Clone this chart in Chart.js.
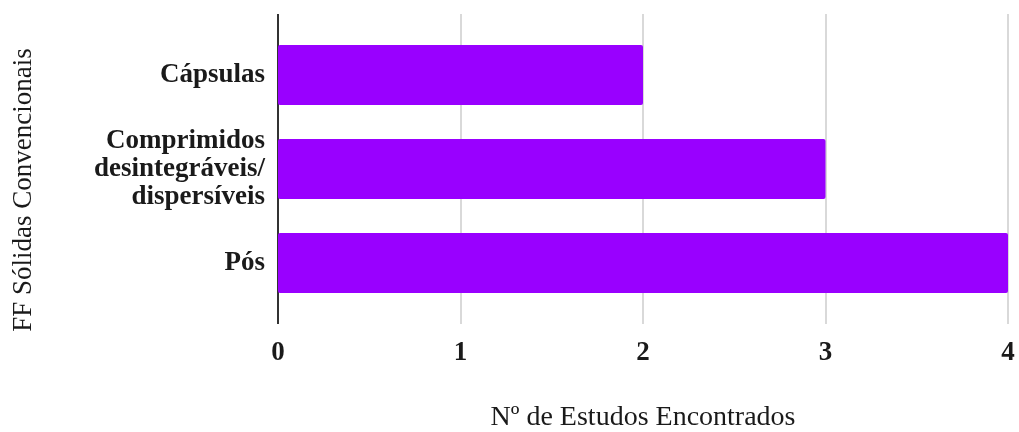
<!DOCTYPE html>
<html>
<head>
<meta charset="utf-8">
<script src="https://cdn.jsdelivr.net/npm/chart.js@4"></script>
<style>
  html, body { margin: 0; padding: 0; background: #fff; }
  #wrap { width: 1019px; height: 432px; }
</style>
</head>
<body>
<div id="wrap"><canvas id="chart"></canvas></div>
<script>
// data
const categories = ['Cápsulas', ['Comprimidos', 'desintegráveis/', 'dispersíveis'], 'Pós']
const studies = [2, 3, 4]
const xTicks = [0, 1, 2, 3, 4]
const xTitle = 'Nº de Estudos Encontrados'
const yTitle = 'FF Sólidas Convencionais'

const serif = "'Liberation Serif', 'Times New Roman', serif"

// gridlines + axis line run a bit past the plot area, like the original
const extendedGrid = {
  id: 'extendedGrid',
  beforeDatasetsDraw(chart) {
    const {ctx, chartArea, scales: {x}} = chart
    ctx.save()
    xTicks.forEach(v => {
      const px = Math.round(x.getPixelForValue(v))
      ctx.beginPath()
      ctx.strokeStyle = v === 0 ? '#333333' : '#cccccc'
      ctx.lineWidth = v === 0 ? 2 : 1.5
      ctx.moveTo(px, chartArea.top - 14)
      ctx.lineTo(px, chartArea.bottom + 14)
      ctx.stroke()
    })
    ctx.restore()
  }
}

const sideTitle = {
  id: 'sideTitle',
  afterDraw(chart) {
    const {ctx} = chart
    ctx.save()
    ctx.translate(24, 190)
    ctx.rotate(-Math.PI / 2)
    ctx.font = "27px " + serif
    ctx.fillStyle = '#1a1a1a'
    ctx.textAlign = 'center'
    ctx.textBaseline = 'middle'
    ctx.fillText(yTitle, 0, 0)
    ctx.restore()
  }
}

new Chart(document.getElementById('chart'), {
  type: 'bar',
  data: {
    labels: categories,
    datasets: [{
      data: studies,
      backgroundColor: '#9900ff',
      borderRadius: 2,
      borderSkipped: false,
      barPercentage: 0.8,
      categoryPercentage: 0.8
    }]
  },
  options: {
    indexAxis: 'y',
    responsive: true,
    maintainAspectRatio: false,
    animation: false,
    layout: { padding: { top: 28, right: 11, left: 0, bottom: 0 } },
    plugins: {
      legend: { display: false },
      tooltip: { enabled: false }
    },
    scales: {
      x: {
        min: 0,
        max: 4,
        afterFit(scale) {
          scale.height = 122
          scale.paddingLeft = 0
          scale.paddingRight = 0
        },
        grid: { display: false, drawTicks: false },
        border: { display: false },
        ticks: {
          stepSize: 1,
          padding: 27,
          color: '#1a1a1a',
          font: { family: serif, size: 27, weight: 'bold' }
        },
        title: {
          display: true,
          text: xTitle,
          color: '#1a1a1a',
          padding: { top: 0, bottom: 0 },
          font: { family: serif, size: 28, lineHeight: 1 }
        }
      },
      y: {
        afterFit(scale) { scale.width = 278 },
        grid: { display: false, drawTicks: false },
        border: { display: false },
        ticks: {
          padding: 13,
          color: '#1a1a1a',
          font: { family: serif, size: 27, weight: 'bold', lineHeight: '28px' }
        }
      }
    }
  },
  plugins: [extendedGrid, sideTitle]
})
</script>
</body>
</html>
